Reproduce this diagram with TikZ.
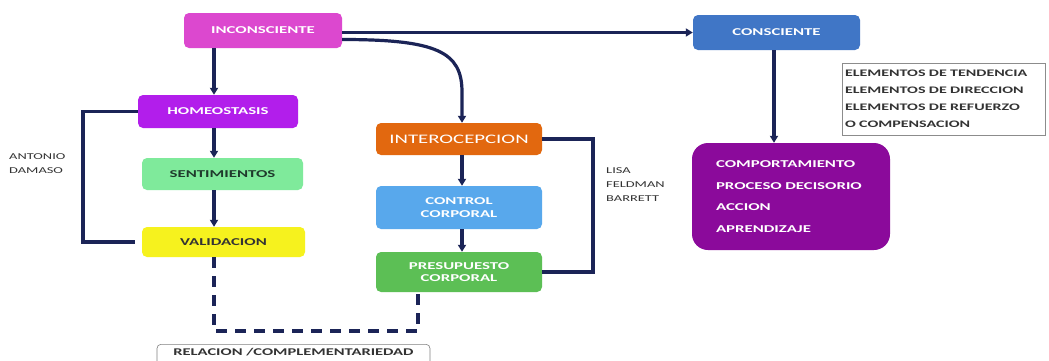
\documentclass[tikz,border=0pt]{standalone}
\usepackage{fontspec}
\setmainfont{Carlito}[FakeStretch=1.6]
\usetikzlibrary{arrows.meta}
\definecolor{cInc}{HTML}{DC48CF}
\definecolor{cHom}{HTML}{B21EEB}
\definecolor{cSen}{HTML}{7FEA9B}
\definecolor{cVal}{HTML}{F6F21E}
\definecolor{cInt}{HTML}{E2680F}
\definecolor{cCtl}{HTML}{58A8EC}
\definecolor{cPre}{HTML}{5CBF55}
\definecolor{cCon}{HTML}{4076C6}
\definecolor{cBeh}{HTML}{8B0A9B}
\definecolor{cLine}{HTML}{1B2457}
\definecolor{cTxt}{HTML}{333333}
\definecolor{cSenT}{HTML}{1F3A2C}
\begin{document}
\begin{tikzpicture}[x=1pt,y=-1pt,
  box/.style={rounded corners=5pt, align=center, inner sep=2pt, text=white,
    font=\bfseries\fontsize{10.5}{12.5}\selectfont},
  conn/.style={draw=cLine, line width=3.2pt},
  arr/.style={conn, -{Triangle[length=7pt,width=8pt]}},
  dsh/.style={conn, dash pattern=on 11pt off 8pt},
  lbl/.style={align=left, anchor=west, text=cTxt, inner sep=0pt,
    font=\fontsize{9}{14}\selectfont}]
\clip (0,0) rectangle (1049,360);
\fill[white] (0,0) rectangle (1049,360);
% left column
\node[box, fill=cInc, minimum width=158pt, minimum height=35pt] (inc) at (263,30.5) {INCONSCIENTE};
\node[box, fill=cHom, minimum width=160pt, minimum height=33pt] (homeo) at (218,111.5) {HOMEOSTASIS};
\node[box, fill=cSen, text=cSenT, minimum width=161pt, minimum height=32pt] (sent) at (222.5,174) {SENTIMIENTOS};
\node[box, fill=cVal, text=cTxt, minimum width=163pt, minimum height=30pt] (val) at (223.5,242) {VALIDACION};
% middle column
\node[box, fill=cInt, minimum width=166pt, minimum height=32pt, font=\fontsize{13}{15}\selectfont] (intero) at (459,139) {INTEROCEPCION};
\node[box, fill=cCtl, minimum width=166pt, minimum height=43pt] (ctrl) at (459,207.5) {CONTROL\\CORPORAL};
\node[box, fill=cPre, minimum width=166pt, minimum height=40pt] (presup) at (459,272) {PRESUPUESTO\\CORPORAL};
% right column
\node[box, fill=cCon, minimum width=167pt, minimum height=35pt] (cons) at (776.5,32.5) {CONSCIENTE};
\node[box, fill=cBeh, rounded corners=16pt, minimum width=198pt, minimum height=107pt,
  text width=150pt, inner xsep=24pt, align=left, font=\bfseries\fontsize{10.5}{21.5}\selectfont] (beh) at (791,196.5)
  {COMPORTAMIENTO\\PROCESO DECISORIO\\ACCION\\APRENDIZAJE};
\node[draw=black!45, line width=0.6pt, text=cTxt, minimum width=203pt, minimum height=72pt,
  text width=197pt, inner xsep=3pt, align=left, font=\bfseries\fontsize{10}{17}\selectfont] (elem) at (943.5,99)
  {ELEMENTOS DE TENDENCIA\\ELEMENTOS DE DIRECCION\\ELEMENTOS DE REFUERZO\\O COMPENSACION};
% labels
\node[lbl] (ad) at (9,164) {ANTONIO\\DAMASO};
\node[lbl] (lfb) at (606,185) {LISA\\FELDMAN\\BARRETT};
\node[draw=black!50, line width=0.6pt, rounded corners=4pt, anchor=north, minimum width=273pt,
  inner ysep=4pt, text depth=14pt, text=cTxt, font=\bfseries\fontsize{10.3}{12}\selectfont] (rel) at (293.5,344)
  {RELACION /COMPLEMENTARIEDAD};
% axes
\coordinate (axL) at (214,0);
\coordinate (axM) at (462,0);
\coordinate (axD) at (418,0);
\coordinate (axR) at (774,0);
\coordinate (brL) at (83,0);
\coordinate (brR) at (593,0);
\coordinate (dl) at (0,331);
\coordinate (bend) at (462,92);
% connectors
\draw[arr] (axL |- inc.south) -- (axL |- homeo.north);
\draw[arr] (axL |- homeo.south) -- (axL |- sent.north);
\draw[arr] (axL |- sent.south) -- (axL |- val.north);
\draw[arr] (inc.east |- cons.west) -- (cons.west);
\draw[arr] ([yshift=-9pt]inc.east) .. controls +(95,0) and +(0,-40) .. (bend) -- (axM |- intero.north);
\draw[arr] (axM |- intero.south) -- (axM |- ctrl.north);
\draw[arr] (axM |- ctrl.south) -- (axM |- presup.north);
\draw[arr] (axR |- cons.south) -- (axR |- beh.north);
\draw[conn] (homeo.west) -- (brL |- homeo.west) -- (brL |- val.west) -- ([xshift=-7pt]val.west);
\draw[conn] (intero.east) -- (brR |- intero.east) -- (brR |- presup.east) -- (presup.east);
\draw[dsh] (axL |- val.south) -- (axL |- dl) -- (axD |- dl) -- (axD |- presup.south);
\end{tikzpicture}
\end{document}
